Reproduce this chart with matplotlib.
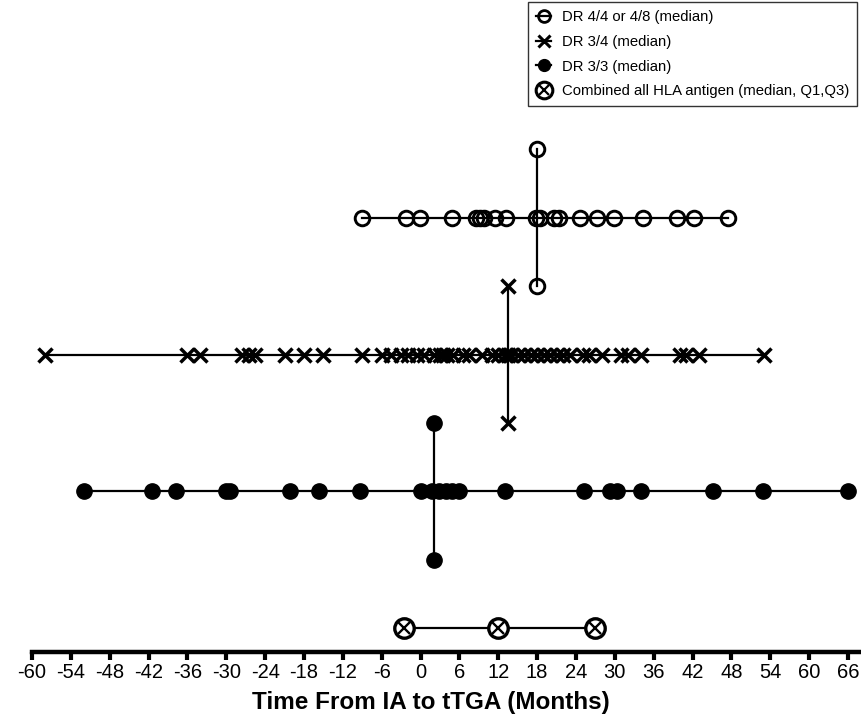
import matplotlib
matplotlib.use("Agg")
import matplotlib.pyplot as plt
from matplotlib.lines import Line2D

plt.rcParams['font.family'] = ['Liberation Sans', 'DejaVu Sans']

# ---- data (months from IA to tTGA) ----
dr44 = [-9.0, -2.3, -0.1, 4.8, 8.5, 9.2, 9.8, 11.5, 13.2, 17.8, 18.4, 20.6,
        21.4, 24.6, 27.2, 29.9, 34.4, 39.6, 42.2, 47.4]
dr44_median = 18

dr34 = [-58, -36, -34, -27.5, -26.5, -25.5, -21, -18, -15, -9, -6, -4.5, -3,
        -2, -0.5, 0.5, 2, 3, 3.5, 4, 5, 6.5, 7.5, 9.5, 11, 12, 13, 13.5, 14,
        15, 16, 17, 18, 19, 20, 21, 22, 23, 25, 26, 28, 31, 32, 34, 40, 41,
        43, 53]
dr34_median = 13.5

dr33 = [-52, -41.5, -37.7, -30, -29.5, -20.2, -15.7, -9.3, 0, 1.8, 2.8, 3.9,
        4.8, 6.0, 13.1, 25.2, 29.3, 30.4, 34.1, 45.2, 52.9, 66]
dr33_median = 2

combined = [-2.5, 12, 27]   # Q1, median, Q3

xticks = list(range(-60, 67, 6))
labels = ["DR 4/4 or 4/8 (median)", "DR 3/4 (median)", "DR 3/3 (median)",
          "Combined all HLA antigen (median, Q1,Q3)"]
xlabel = "Time From IA to tTGA (Months)"

W, H = 861, 726
fig = plt.figure(figsize=(W / 100, H / 100), dpi=100)
ax_left, ax_right = 32, 861
ax_top, ax_bot = 140, 652
ax = fig.add_axes([ax_left / W, 1 - ax_bot / H, (ax_right - ax_left) / W,
                   (ax_bot - ax_top) / H])

row_gap = 137.0
ylo = 1 - 24 / row_gap
yhi = 4 + (218 - ax_top) / row_gap
ax.set_xlim(-60, 68)
ax.set_ylim(ylo, yhi)

lw = 1.6
ms = 10.5
half = 0.5

# Row 1: open circles
ax.plot([min(dr44), max(dr44)], [4, 4], color='black', lw=lw, zorder=1)
ax.plot(dr44, [4] * len(dr44), ls='none', marker='o', ms=ms, mfc='none',
        mec='black', mew=2.1, zorder=3, clip_on=False)
ax.plot([dr44_median, dr44_median], [4 - half, 4 + half], color='black', lw=lw,
        marker='o', ms=ms, mfc='none', mec='black', mew=2.1, clip_on=False)

# Row 2: x markers
ax.plot([min(dr34), max(dr34)], [3, 3], color='black', lw=lw, zorder=1)
ax.plot(dr34, [3] * len(dr34), ls='none', marker='x', ms=ms, mec='black',
        mew=2.5, zorder=3, clip_on=False)
ax.plot([dr34_median, dr34_median], [3 - half, 3 + half], color='black', lw=lw,
        marker='x', ms=ms, mec='black', mew=2.5, clip_on=False)

# Row 3: filled dots
ax.plot([min(dr33), max(dr33)], [2, 2], color='black', lw=lw, zorder=1)
ax.plot(dr33, [2] * len(dr33), ls='none', marker='o', ms=ms + 0.5,
        mfc='black', mec='black', zorder=3, clip_on=False)
ax.plot([dr33_median, dr33_median], [2 - half, 2 + half], color='black', lw=lw,
        marker='o', ms=ms + 0.5, mfc='black', mec='black', clip_on=False)

# Row 4: combined (circle with x)
ax.plot([min(combined), max(combined)], [1, 1], color='black', lw=lw, zorder=1)
ax.plot(combined, [1] * len(combined), ls='none', marker='o', ms=14,
        mfc='white', mec='black', mew=2.4, zorder=3, clip_on=False)
ax.plot(combined, [1] * len(combined), ls='none', marker='x', ms=8.5,
        mec='black', mew=1.7, zorder=4, clip_on=False)

# axes styling
for s in ['left', 'right', 'top']:
    ax.spines[s].set_visible(False)
ax.spines['bottom'].set_linewidth(3.2)
ax.set_yticks([])
ax.set_xticks(xticks)
ax.set_xticklabels([str(t) for t in xticks], fontsize=14.5)
ax.tick_params(axis='x', length=6, width=3, pad=2, direction='out')
ax.set_xlabel(xlabel, fontsize=17.5, fontweight='bold')
ax.xaxis.set_label_coords((431 - ax_left) / (ax_right - ax_left),
                          -(703 + 11 - ax_bot) / (ax_bot - ax_top))
ax.xaxis.label.set_va('bottom')

# legend
handles = [
    Line2D([], [], color='black', lw=1.6, marker='o', ms=8.5, mfc='none',
           mec='black', mew=2.0),
    Line2D([], [], color='black', lw=1.6, marker='x', ms=8.5, mec='black',
           mew=2.2),
    Line2D([], [], color='black', lw=1.6, marker='o', ms=8.5, mfc='black',
           mec='black'),
    (Line2D([], [], ls='none', marker='o', ms=12, mfc='white', mec='black',
            mew=2.2),
     Line2D([], [], ls='none', marker='x', ms=7.5, mec='black', mew=1.6)),
]
leg = fig.legend(handles, labels, loc='upper right',
                 bbox_to_anchor=(857 / W, 1 - 2 / H), fontsize=10.7,
                 frameon=True, fancybox=False, edgecolor='black',
                 handlelength=1.0, handletextpad=0.7, borderpad=0.55,
                 labelspacing=0.72, borderaxespad=0)
leg.get_frame().set_linewidth(1.0)

fig.savefig("out.png", dpi=100)
